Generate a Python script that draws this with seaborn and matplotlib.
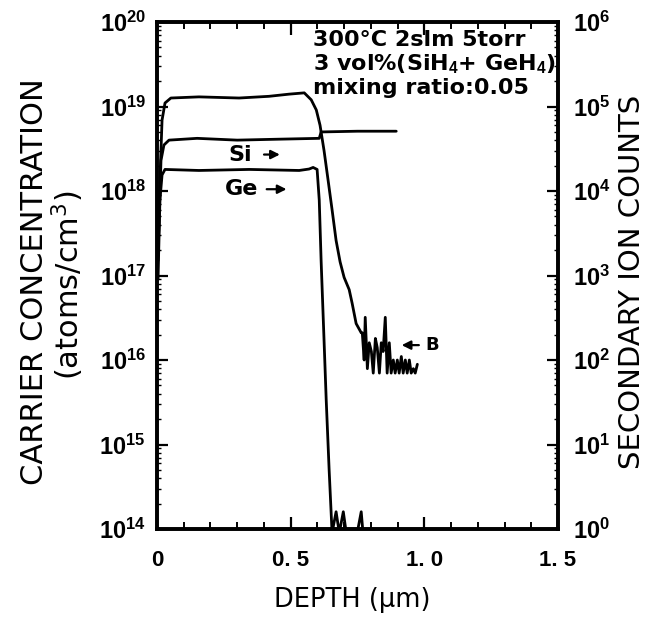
import matplotlib
matplotlib.use("Agg")
import matplotlib.pyplot as plt
import numpy as np
import pandas as pd
import seaborn as sns
from matplotlib.ticker import FixedLocator, LogLocator, NullFormatter, FixedFormatter

# ---------------- data ----------------
b_depth = [0.004, 0.011, 0.019, 0.030, 0.052, 0.157, 0.307, 0.419, 0.494, 0.551,
           0.577, 0.596, 0.610, 0.625, 0.640, 0.655, 0.670, 0.685, 0.700, 0.719,
           0.730, 0.745, 0.764,
           0.768, 0.775, 0.779, 0.787, 0.794, 0.802, 0.809, 0.817, 0.824, 0.832,
           0.839, 0.846, 0.854, 0.861, 0.869, 0.876, 0.884, 0.891, 0.899, 0.906,
           0.914, 0.921, 0.929, 0.936, 0.944, 0.951, 0.959, 0.966, 0.974]
b_conc = [1.5e17, 1.35e18, 6.9e18, 1.1e19, 1.26e19, 1.3e19, 1.26e19, 1.32e19, 1.4e19, 1.45e19,
          1.2e19, 9.1e18, 6.0e18, 3.0e18, 1.35e18, 6.0e17, 2.6e17, 1.45e17, 9.5e16, 6.8e16,
          4.7e16, 2.7e16, 2.1e16,
          2.1e16, 1.0e16, 3.2e16, 7.9e15, 1.6e16, 1.26e16, 7.0e15, 1.8e16, 1.4e16, 7.0e15,
          1.6e16, 1.26e16, 3.2e16, 7.0e15, 1.6e16, 7.0e15, 1.0e16, 7.0e15, 1.0e16, 7.0e15,
          1.1e16, 7.0e15, 1.0e16, 7.0e15, 1.0e16, 7.0e15, 7.9e15, 7.0e15, 8.9e15]

si_depth = [0.004, 0.007, 0.015, 0.026, 0.045, 0.15, 0.30, 0.45, 0.607, 0.614, 0.75, 0.895]
si_conc = [2.0e17, 3.5e17, 2.3e18, 3.5e18, 4.0e18, 4.2e18, 4.0e18, 4.1e18, 4.2e18, 5.0e18, 5.1e18, 5.1e18]

ge_depth = [0.004, 0.011, 0.019, 0.030, 0.157, 0.345, 0.532, 0.569, 0.584, 0.599,
            0.607, 0.614, 0.625, 0.633, 0.644, 0.655, 0.670, 0.682, 0.697, 0.708,
            0.727, 0.749, 0.764, 0.772, 0.801]
ge_conc = [9e16, 7.8e17, 1.55e18, 1.8e18, 1.75e18, 1.8e18, 1.75e18, 1.82e18, 1.9e18, 1.8e18,
           7.8e17, 1.5e17, 1.7e16, 3.4e15, 5e14, 9e13, 1.6e14, 9e13, 1.6e14, 9e13,
           8e13, 9e13, 1.6e14, 8e13, 8e13]

x_ticks = [0, 0.5, 1.0, 1.5]
x_tick_labels = ["0", "0. 5", "1. 0", "1. 5"]
left_exps = [14, 15, 16, 17, 18, 19, 20]
right_exps = [0, 1, 2, 3, 4, 5, 6]

# ---------------- styling ----------------
sns.set_theme(style="ticks")
plt.rcParams["font.family"] = ["Liberation Sans", "DejaVu Sans"]
plt.rcParams["mathtext.fontset"] = "custom"
plt.rcParams["mathtext.rm"] = "DejaVu Sans"
plt.rcParams["mathtext.it"] = "DejaVu Sans:italic"
plt.rcParams["mathtext.bf"] = "Liberation Sans:bold"
for key in ["text.color", "axes.labelcolor", "xtick.color", "ytick.color", "axes.edgecolor"]:
    plt.rcParams[key] = "black"

frames = []
for name, d, c in [("B", b_depth, b_conc), ("Si", si_depth, si_conc), ("Ge", ge_depth, ge_conc)]:
    frames.append(pd.DataFrame({"depth": d, "conc": c, "series": name}))
df = pd.concat(frames, ignore_index=True)

fig = plt.figure(figsize=(6.59, 6.18), dpi=100)
ax = fig.add_axes([0.2382, 0.144, 0.6085, 0.8204])

sns.lineplot(data=df, x="depth", y="conc", hue="series",
             palette={"B": "black", "Si": "black", "Ge": "black"},
             estimator=None, sort=False, lw=2.0, legend=False, ax=ax)

ax.set_yscale("log")
ax.set_xlim(0, 1.5)
ax.set_ylim(1e14, 1e20)

for s in ax.spines.values():
    s.set_linewidth(2.6)
    s.set_color("black")

ax.xaxis.set_major_locator(FixedLocator(x_ticks))
ax.xaxis.set_major_formatter(FixedFormatter(x_tick_labels))
ax.xaxis.set_minor_locator(FixedLocator(np.arange(0, 1.51, 0.1)))
ax.set_yticks([10.0 ** e for e in left_exps])
ax.set_yticklabels([r"$\mathbf{10^{%d}}$" % e for e in left_exps])
ax.yaxis.set_minor_locator(LogLocator(base=10, subs=np.arange(2, 10)))
ax.yaxis.set_minor_formatter(NullFormatter())

ax.tick_params(axis="x", which="major", direction="in", length=9, width=1.6,
               top=True, bottom=True, labelsize=16, pad=15, colors="black")
ax.tick_params(axis="x", which="minor", direction="in", length=5, width=1.4,
               top=True, bottom=True, colors="black")
ax.tick_params(axis="y", which="major", direction="in", length=8, width=1.6,
               left=True, right=False, labelsize=17, pad=8, colors="black")
ax.tick_params(axis="y", which="minor", direction="in", length=3, width=1.0,
               left=True, right=False, colors="black")
for lab in ax.get_xticklabels():
    lab.set_fontweight("bold")
ax.set_xlabel("")
ax.set_ylabel("")

ax2 = ax.twinx()
ax2.set_yscale("log")
ax2.set_ylim(1e0, 1e6)
ax2.set_yticks([10.0 ** e for e in right_exps])
ax2.set_yticklabels([r"$\mathbf{10^{%d}}$" % e for e in right_exps])
ax2.yaxis.set_minor_locator(LogLocator(base=10, subs=np.arange(2, 10)))
ax2.yaxis.set_minor_formatter(NullFormatter())
ax2.tick_params(axis="y", which="major", direction="in", length=8, width=1.6,
                labelsize=17, pad=11, colors="black")
ax2.tick_params(axis="y", which="minor", direction="in", length=3, width=1.0, colors="black")
for s in ax2.spines.values():
    s.set_linewidth(2.6)
    s.set_color("black")

# axis titles
lab_font = ["DejaVu Sans"]
fig.text(35 / 659, 1 - 282 / 618, "CARRIER CONCENTRATION", rotation=90,
         ha="center", va="center", fontsize=22, family=lab_font, color="black")
fig.text(68 / 659, 1 - 285 / 618, r"(atoms/cm$^3$)", rotation=90,
         ha="center", va="center", fontsize=22, family=lab_font, color="black")
fig.text(632 / 659, 1 - 282 / 618, "SECONDARY ION COUNTS", rotation=90,
         ha="center", va="center", fontsize=21, family=lab_font, color="black")
fig.text(352 / 659, 1 - 600 / 618, r"DEPTH (μm)",
         ha="center", va="center", fontsize=18.5, family=lab_font, color="black")

# ---------------- annotations ----------------
ann_font = ["DejaVu Sans"]
ax.text(0.39, 0.964, "300°C 2slm 5torr", transform=ax.transAxes, fontsize=16,
        fontweight="bold", family=ann_font, ha="left", va="center")
ax.text(0.39, 0.917, r"3 vol%(SiH$_\mathbf{4}$+ GeH$_\mathbf{4}$)", transform=ax.transAxes,
        fontsize=16, fontweight="bold", family=ann_font, ha="left", va="center")
ax.text(0.39, 0.870, "mixing ratio:0.05", transform=ax.transAxes, fontsize=16,
        fontweight="bold", family=ann_font, ha="left", va="center")

arrow = dict(arrowstyle="-|>", color="black", lw=1.6, mutation_scale=13)
ax.text(0.31, 2.7e18, "Si", fontsize=16, fontweight="bold", family=ann_font,
        ha="center", va="center")
ax.annotate("", xy=(0.47, 2.7e18), xytext=(0.39, 2.7e18), arrowprops=arrow)
ax.text(0.315, 1.05e18, "Ge", fontsize=16, fontweight="bold", family=ann_font,
        ha="center", va="center")
ax.annotate("", xy=(0.495, 1.05e18), xytext=(0.40, 1.05e18), arrowprops=arrow)
ax.annotate("", xy=(0.905, 1.5e16), xytext=(0.99, 1.5e16), arrowprops=arrow)
ax.text(1.03, 1.5e16, "B", fontsize=13, fontweight="bold", family=ann_font,
        ha="center", va="center")

fig.savefig("out.png", dpi=100)
